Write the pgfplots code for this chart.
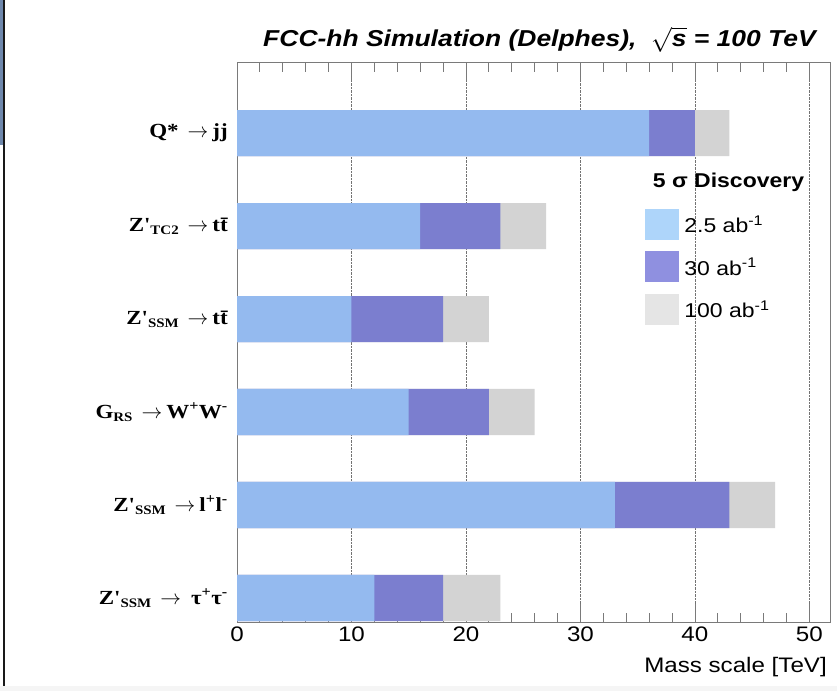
\documentclass[border=0pt]{standalone}
\usepackage{fontspec}
\setmainfont{Liberation Sans}[FakeStretch=1.15]
\newfontfamily\timesf{Liberation Serif}[FakeStretch=1.15]
\usepackage{pgfplots}
\pgfplotsset{compat=1.18}
\definecolor{barblue}{HTML}{94BAEF}
\definecolor{barpurple}{HTML}{7B7ECF}
\definecolor{bargray}{HTML}{D3D3D3}
\definecolor{legblue}{HTML}{AED5FA}
\definecolor{legpurple}{HTML}{8F90E0}
\definecolor{leggray}{HTML}{E5E5E5}
\definecolor{framegray}{HTML}{7A7A7A}
\definecolor{slide}{HTML}{6F88AC}
\newcommand{\sub}[1]{\raisebox{-0.3ex}{\fontsize{13}{13}\selectfont #1}}
\newcommand{\sups}[1]{\textsuperscript{#1}}
\newcommand{\arr}{\hspace{0.45em}$\rightarrow$\hspace{0.2em}}

\pgfplotstableread{
y   lumi25 lumi30 lumi100
0   12     18     23
1   33     43     47
2   15     22     26
3   10     18     22
4   16     23     27
5   36     40     43
}\massdata

\begin{document}
\begin{tikzpicture}[x=1pt,y=1pt]
\useasboundingbox (0,0) rectangle (837,691);
\fill[slide] (0,546) rectangle (3.3,691);
\fill[black!90] (3.3,0) rectangle (4.8,691);
\fill[gray!8] (0,0) rectangle (837,5);
\node[anchor=base, font=\fontsize{23}{23}\selectfont\bfseries\itshape, inner sep=0pt]
  at (539.5,644) {FCC-hh Simulation (Delphes),\ \ $\sqrt{\mbox{\bfseries\itshape s}}$ = 100 TeV};
\begin{axis}[
  at={(237pt,69pt)}, anchor=south west,
  scale only axis, width=593pt, height=559pt,
  xbar, bar shift=0pt, bar width=0.495,
  xmin=0, xmax=51.8, ymin=-0.258, ymax=5.753,
  xtick={0,10,...,50}, minor x tick num=4,
  xtick pos=both, tick align=inside,
  major tick length=18pt, minor tick length=9pt,
  ytick={0,...,5},
  yticklabels={
    {Z'\sub{SSM}\arr\hspace{0.3em}τ\sups{+}τ\sups{-}},
    {Z'\sub{SSM}\arr l\sups{+}l\sups{-}},
    {G\sub{RS}\arr W\sups{+}W\sups{-}},
    {Z'\sub{SSM}\arr t\={t}},
    {Z'\sub{TC2}\arr t\={t}},
    {Q*\arr jj}},
  ytick style={draw=none},
  yticklabel style={font=\timesf\bfseries\fontsize{20}{20}\selectfont, anchor=east, inner sep=0pt, xshift=-9pt},
  xticklabel style={font=\fontsize{21}{21}\selectfont, inner sep=0pt, yshift=-5pt},
  /pgf/number format/assume math mode=true,
  xmajorgrids, grid style={densely dotted, black!55, line width=0.6pt},
  axis line style={framegray, line width=1pt},
  every tick/.style={framegray, line width=0.8pt},
  xlabel={Mass scale [TeV]},
  xlabel style={at={(rel axis cs:1,0)}, anchor=north east, inner sep=0pt, yshift=-35pt, xshift=-3pt, font=\fontsize{21}{21}\selectfont},
  legend style={at={(rel axis cs:0.688,0.739)}, anchor=north west, draw=none, fill=none,
    inner sep=0pt, outer sep=0pt, row sep=12pt, column sep=6pt,
    nodes={inner sep=0pt}, font=\fontsize{20}{20}\selectfont},
  legend cell align=left,
]
\addplot[fill=bargray, draw=none, forget plot] table[x=lumi100, y=y] {\massdata};
\addplot[fill=barpurple, draw=none, forget plot] table[x=lumi30, y=y] {\massdata};
\addplot[fill=barblue, draw=none, forget plot] table[x=lumi25, y=y] {\massdata};
\addlegendimage{legend image code/.code={\fill[legblue] (0pt,-14pt) rectangle (33pt,16pt);}}
\addlegendentry{2.5 ab\sups{-1}}
\addlegendimage{legend image code/.code={\fill[legpurple] (0pt,-14pt) rectangle (33pt,16pt);}}
\addlegendentry{30 ab\sups{-1}}
\addlegendimage{legend image code/.code={\fill[leggray] (0pt,-14pt) rectangle (33pt,16pt);}}
\addlegendentry{100 ab\sups{-1}}
\node[anchor=base west, inner sep=0pt, font=\fontsize{20}{20}\selectfont\bfseries]
  at (rel axis cs:0.701,0.778) {5 σ Discovery};
\end{axis}
\end{tikzpicture}
\end{document}
